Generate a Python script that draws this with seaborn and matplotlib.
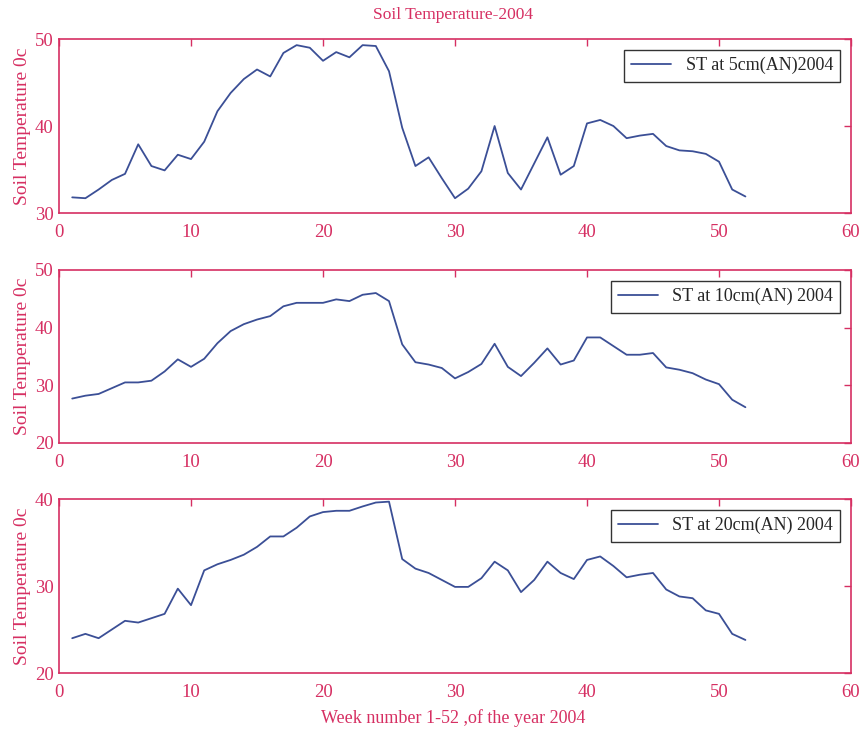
import numpy as np
import pandas as pd
import matplotlib
matplotlib.use('Agg')
import matplotlib.pyplot as plt
import seaborn as sns

# weekly soil temperature readings, 2004
weeks = list(range(1, 53))

st_5cm = [31.8, 31.7, 32.7, 33.8, 34.5, 37.9, 35.4, 34.9, 36.7, 36.2,
          38.2, 41.7, 43.8, 45.4, 46.5, 45.7, 48.4, 49.3, 49.0, 47.5,
          48.5, 47.9, 49.3, 49.2, 46.3, 39.8, 35.4, 36.4, 34.0, 31.7,
          32.8, 34.8, 40.0, 34.6, 32.7, 35.7, 38.7, 34.4, 35.4, 40.3,
          40.7, 40.0, 38.6, 38.9, 39.1, 37.7, 37.2, 37.1, 36.8, 35.9,
          32.7, 31.9]

st_10cm = [27.7, 28.2, 28.5, 29.5, 30.5, 30.5, 30.8, 32.4, 34.5, 33.2,
           34.6, 37.3, 39.4, 40.6, 41.4, 42.0, 43.7, 44.3, 44.3, 44.3,
           44.9, 44.6, 45.7, 46.0, 44.6, 37.1, 34.0, 33.6, 33.0, 31.2,
           32.3, 33.7, 37.2, 33.2, 31.6, 33.9, 36.4, 33.6, 34.3, 38.3,
           38.3, 36.8, 35.3, 35.3, 35.6, 33.1, 32.7, 32.1, 31.0, 30.2,
           27.5, 26.2]

st_20cm = [24.0, 24.5, 24.0, 25.0, 26.0, 25.8, 26.3, 26.8, 29.7, 27.8,
           31.8, 32.5, 33.0, 33.6, 34.5, 35.7, 35.7, 36.7, 38.0, 38.5,
           38.65, 38.65, 39.15, 39.6, 39.7, 33.1, 32.0, 31.5, 30.7, 29.9,
           29.9, 30.9, 32.8, 31.8, 29.3, 30.7, 32.8, 31.5, 30.8, 33.0,
           33.4, 32.3, 31.0, 31.3, 31.5, 29.6, 28.8, 28.6, 27.2, 26.8,
           24.5, 23.8]

labels = ['ST at 5cm(AN)2004', 'ST at 10cm(AN) 2004', 'ST at 20cm(AN) 2004']
y_limits = [(30, 50), (20, 50), (20, 40)]
y_ticks = [[30, 40, 50], [20, 30, 40, 50], [20, 30, 40]]

red = '#d62f62'
blue = '#3b4f96'

sns.set_style('white')
plt.rcParams['font.family'] = ['Liberation Serif', 'DejaVu Serif']

fig = plt.figure(figsize=(8.59, 7.34), dpi=100)
boxes = [[0.0687, 0.7098, 0.922, 0.237],
         [0.0687, 0.3965, 0.922, 0.2357],
         [0.0687, 0.0831, 0.922, 0.237]]

series = [st_5cm, st_10cm, st_20cm]
for i in range(3):
    ax = fig.add_axes(boxes[i])
    df = pd.DataFrame({'week': weeks, 'temp': series[i]})
    sns.lineplot(data=df, x='week', y='temp', ax=ax, color=blue,
                 linewidth=1.3, label=labels[i])
    ax.set_xlim(0, 60)
    ax.set_ylim(*y_limits[i])
    ax.set_xticks([0, 10, 20, 30, 40, 50, 60])
    ax.set_yticks(y_ticks[i])
    ax.tick_params(direction='in', length=5, width=1, colors=red,
                   labelsize=13.5, top=True, right=True)
    ax.tick_params(axis='x', pad=8)
    ax.tick_params(axis='y', pad=4)
    for s in ax.spines.values():
        s.set_color(red)
        s.set_linewidth(1.2)
    ax.set_xlabel('')
    ax.set_ylabel('Soil Temperature 0c', color=red, fontsize=14, labelpad=3)
    leg = ax.legend(loc='upper right', fontsize=13, frameon=True,
                    fancybox=False, edgecolor='black', handlelength=2.2,
                    borderaxespad=0.6)
    leg.get_frame().set_linewidth(1.0)

fig.text(0.527, 0.979, 'Soil Temperature-2004', ha='center', va='center',
         color=red, fontsize=12.5)
fig.text(0.527, 0.022, 'Week number 1-52 ,of the year 2004', ha='center',
         va='center', color=red, fontsize=13)

fig.savefig('out.png', dpi=100)
